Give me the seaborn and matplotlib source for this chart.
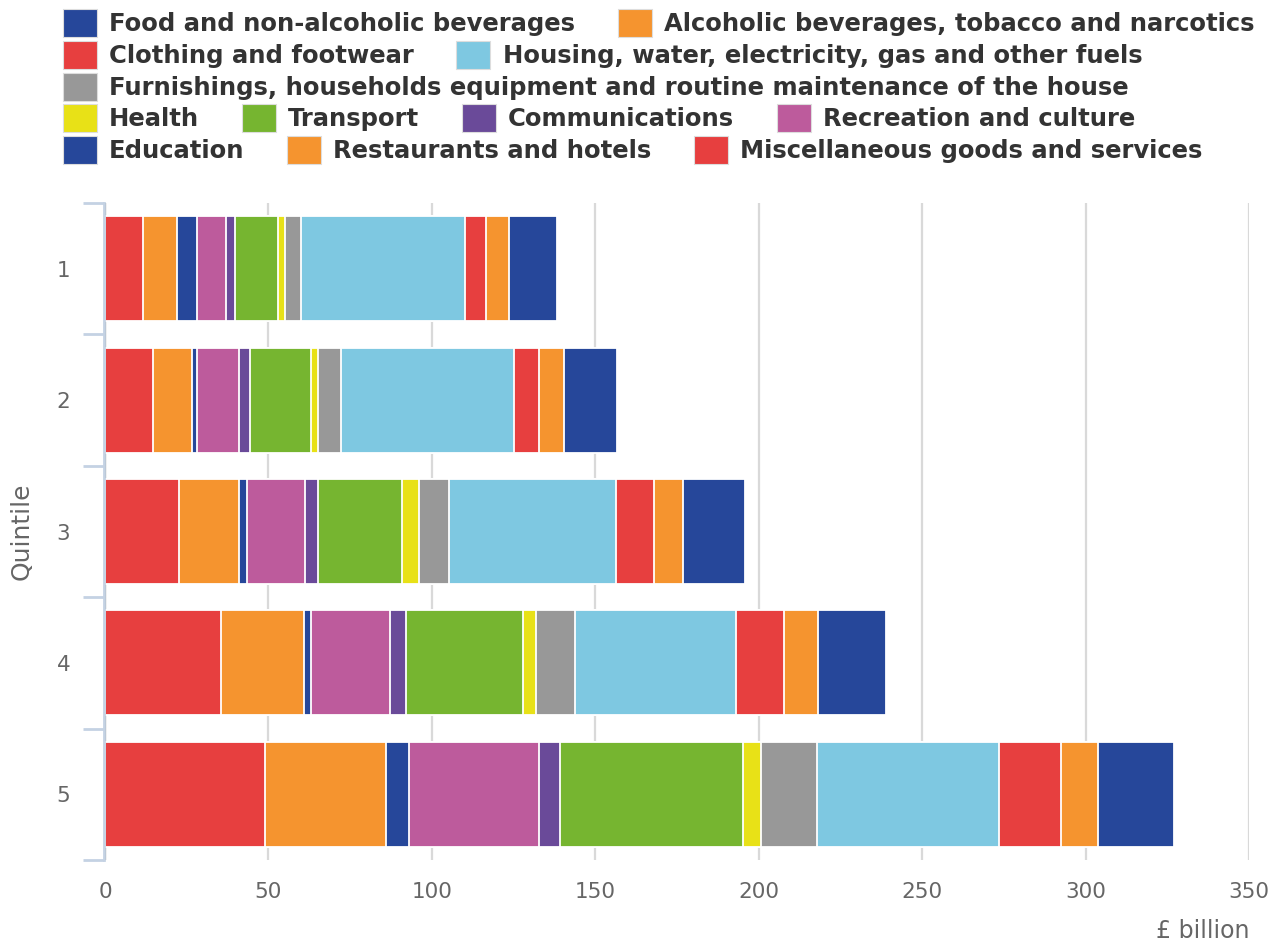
import numpy as np
import pandas as pd
import matplotlib
matplotlib.use("Agg")
import matplotlib.pyplot as plt
from matplotlib.patches import Patch
import seaborn as sns

# Household spending by income quintile, £ billion
quintiles = ["1", "2", "3", "4", "5"]

food = [14.8, 16.2, 18.8, 21.0, 23.1]
alcohol = [7.0, 7.7, 9.0, 10.4, 11.5]
clothing = [6.3, 7.6, 11.7, 14.4, 19.0]
housing = [50.3, 53.0, 51.0, 49.5, 55.5]
furnishings = [4.9, 7.0, 9.0, 11.8, 17.2]
health = [2.1, 2.1, 5.4, 4.0, 5.5]
transport = [13.0, 18.6, 25.5, 35.9, 56.1]
communications = [2.9, 3.4, 4.2, 4.9, 6.3]
recreation = [8.9, 13.1, 17.8, 24.1, 39.9]
education = [6.2, 1.4, 2.2, 2.2, 6.9]
restaurants = [10.4, 11.8, 18.5, 25.2, 37.2]
misc = [11.5, 14.8, 22.6, 35.6, 48.8]

labels = [
    "Food and non-alcoholic beverages",
    "Alcoholic beverages, tobacco and narcotics",
    "Clothing and footwear",
    "Housing, water, electricity, gas and other fuels",
    "Furnishings, households equipment and routine maintenance of the house",
    "Health",
    "Transport",
    "Communications",
    "Recreation and culture",
    "Education",
    "Restaurants and hotels",
    "Miscellaneous goods and services",
]
series = [food, alcohol, clothing, housing, furnishings, health, transport,
          communications, recreation, education, restaurants, misc]
colors = ["#26479a", "#f5942f", "#e73f3f", "#7ec8e1", "#989898", "#e8e117",
          "#76b530", "#6a4a99", "#bd5b9c", "#26479a", "#f5942f", "#e73f3f"]

# stacking goes from the last series (left) to the first (right)
stack_order = list(range(len(series)))[::-1]

fig = plt.figure(figsize=(12.84, 9.47), dpi=100)
ax = fig.add_axes([105 / 1284, 1 - 860 / 947, (1249 - 105) / 1284, (860 - 203) / 947])

# gridlines
for v in range(0, 351, 50):
    ax.axvline(v, color="#777777" if v == 0 else "#d9d9d9", lw=1.6, zorder=0)

# cumulative bars, drawn widest first so each narrower one overlays
cum = np.zeros(len(quintiles))
cums = []
for i in stack_order:
    cum = cum + np.array(series[i])
    cums.append((i, cum.copy()))

for i, c in reversed(cums):
    sub = pd.DataFrame({"quintile": quintiles, "value": c})
    sns.barplot(data=sub, x="value", y="quintile", order=quintiles,
                color=colors[i], saturation=1, edgecolor="white",
                linewidth=1.3, width=0.8, ax=ax, zorder=2)

ax.set_xlim(0, 350)
ax.set_ylim(4.5, -0.5)
ax.set_xticks(range(0, 351, 50))
ax.tick_params(axis="x", length=0, pad=16, labelsize=15.5, labelcolor="#666666")

ax.set_yticks(np.arange(-0.5, 5, 1))
ax.set_yticklabels([""] * 6)
ax.tick_params(axis="y", which="major", length=15, width=2, color="#c4d2e3")
ax.set_yticks(range(5), minor=True)
ax.set_yticklabels(quintiles, minor=True)
ax.tick_params(axis="y", which="minor", length=0, pad=24, labelsize=15.5,
               labelcolor="#666666")

for s in ["top", "right", "bottom"]:
    ax.spines[s].set_visible(False)
ax.spines["left"].set_color("#c4d2e3")
ax.spines["left"].set_linewidth(2)
ax.spines["left"].set_position(("outward", 1))

ax.set_ylabel("Quintile", fontsize=18, color="#666666")
ax.yaxis.set_label_coords((34 - 105) / 1144, 0.5)
ax.set_xlabel("£ billion", fontsize=17, color="#666666", loc="right", labelpad=12)

# flowing legend, one row at a time
rows = [[0, 1], [2, 3], [4], [5, 6, 7, 8], [9, 10, 11]]
row_y = [23, 55, 87, 118, 150]
for r, y in zip(rows, row_y):
    handles = [Patch(facecolor=colors[i], edgecolor="#dddddd", linewidth=0.8,
                     label=labels[i]) for i in r]
    leg = fig.legend(handles=handles, loc="center left",
                     bbox_to_anchor=(63 / 1284, 1 - y / 947), ncol=len(r),
                     frameon=False, borderpad=0, borderaxespad=0,
                     handlelength=1.4, handleheight=1.4, handletextpad=0.5,
                     columnspacing=1.75,
                     prop={"weight": "bold", "size": 17.5})
    for t in leg.get_texts():
        t.set_color("#333333")

fig.savefig("out.png", dpi=100)
